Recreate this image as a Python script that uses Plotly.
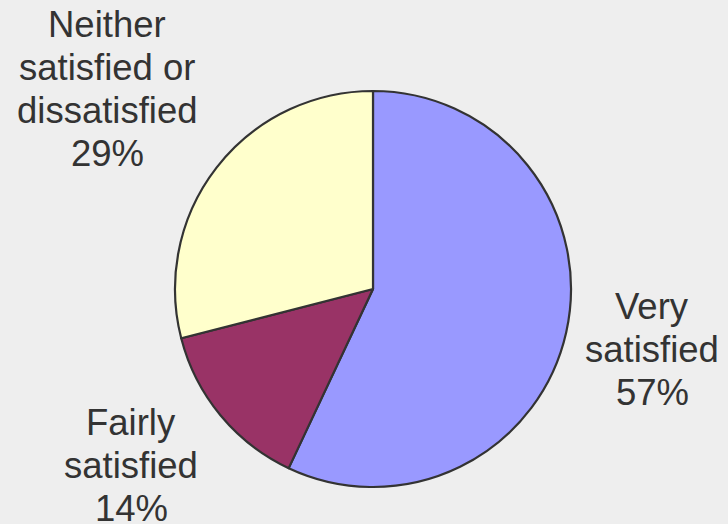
import plotly.graph_objects as go

# Survey results: share of respondents by satisfaction level
categories = ["Very satisfied", "Fairly satisfied", "Neither satisfied or dissatisfied"]
label_lines = [["Very", "satisfied"], ["Fairly", "satisfied"], ["Neither", "satisfied or", "dissatisfied"]]
shares = [57, 14, 29]
colors = ["#9999FF", "#993366", "#FFFFCC"]

W, H = 728, 524
cx, cy, r = 373, 289, 198  # pie centre / radius in pixels

# label block anchors (pixel x, first-line baseline y)
label_pos = [(652, 319), (131, 435), (107, 37)]
line_gap = 43
font_size = 36.5

fig = go.Figure(
    go.Pie(
        labels=categories,
        values=shares,
        marker=dict(colors=colors, line=dict(color="#333333", width=2.2)),
        sort=False,
        direction="clockwise",
        rotation=0,
        textinfo="none",
        hoverinfo="label+percent",
        domain=dict(
            x=[(cx - r) / W, (cx + r) / W],
            y=[(H - cy - r) / H, (H - cy + r) / H],
        ),
        showlegend=False,
    )
)

total = sum(shares)
annotations = []
for lines, v, (lx, ly) in zip(label_lines, shares, label_pos):
    all_lines = lines + [f"{round(100 * v / total)}%"]
    for i, txt in enumerate(all_lines):
        base = ly + i * line_gap
        annotations.append(
            dict(
                x=lx / W,
                y=1 - (base - 0.36 * 35) / H,
                xref="paper",
                yref="paper",
                text=txt,
                showarrow=False,
                xanchor="center",
                yanchor="middle",
                font=dict(family="Liberation Sans, Arial, sans-serif", size=font_size, color="#333333"),
            )
        )

fig.update_layout(
    width=W,
    height=H,
    margin=dict(l=0, r=0, t=0, b=0),
    paper_bgcolor="#EEEEEE",
    plot_bgcolor="#EEEEEE",
    annotations=annotations,
)

fig.write_html("out.html")
